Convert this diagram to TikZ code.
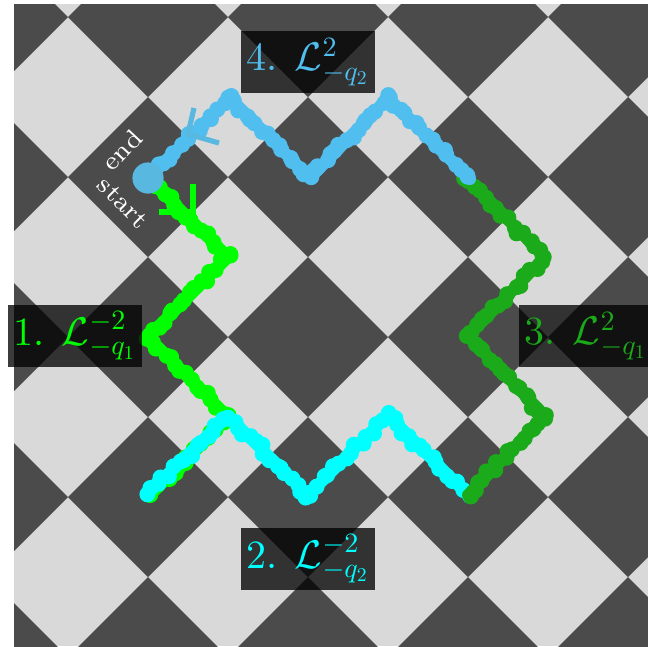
\documentclass[tikz,border=0pt]{standalone}
\usetikzlibrary{calc}
\definecolor{boardDark}{RGB}{75,75,75}
\definecolor{boardLight}{RGB}{217,217,217}
\definecolor{cA}{RGB}{0,255,0}
\definecolor{cB}{RGB}{0,255,255}
\definecolor{cC}{RGB}{26,170,26}
\definecolor{cD}{RGB}{80,190,238}
\definecolor{cE}{RGB}{88,184,224}
\newcommand\shr[1]{\scalebox{0.7}{$#1$}}
\newcommand\jseg[3]{%
  \draw[#1, line width=3pt, line cap=round] (#2) -- (#3);
  \foreach \k in {0,...,15}{%
    \pgfmathsetmacro\jt{\k/15}%
    \fill[#1] ($(#2)!\jt!(#3)+(3*rand,3*rand)$) circle[radius=2pt];
  }%
}
\tikzset{
  lab/.style={fill=black, fill opacity=0.77, text opacity=1, minimum width=33.5pt,
    minimum height=15.5pt, inner sep=0pt, font=\normalsize},
  barb/.style={line width=1.3pt},
  tag/.style={text=white, inner sep=0pt, font=\fontsize{6.5}{8}\selectfont}
}
\begin{document}
\begin{tikzpicture}[x=0.25pt,y=-0.25pt]
\useasboundingbox (0,0) rectangle (648,646);
\begin{scope}
  \clip (14,4) rectangle (648,646);
  \fill[boardLight] (14,4) rectangle (648,646);
  \foreach \m in {-1,...,3}{
    \foreach \n in {-1,...,4}{
      \fill[boardDark] ({148+160*\m-80},{17+160*\n}) -- ++(80,-80) -- ++(80,80) -- ++(-80,80) -- cycle;
    }
  }
\end{scope}
\coordinate (P0) at (148,178);
\coordinate (A1) at (228,257);
\coordinate (A2) at (148,337);
\coordinate (A3) at (228,417);
\coordinate (A4) at (153,492);
\coordinate (B0) at (146,495);
\coordinate (B1) at (228,416);
\coordinate (B2) at (308,495);
\coordinate (B3) at (388,415);
\coordinate (B4) at (468,495);
\coordinate (C1) at (545,416);
\coordinate (C2) at (468,336);
\coordinate (C3) at (545,257);
\coordinate (C4) at (466,177);
\coordinate (D0) at (470,179);
\coordinate (D1) at (388,98);
\coordinate (D2) at (310,178);
\coordinate (D3) at (230,98);
\pgfmathsetseed{7}
% path 1
\jseg{cA}{P0}{A1}\jseg{cA}{A1}{A2}\jseg{cA}{A2}{A3}\jseg{cA}{A3}{A4}
% path 2
\jseg{cB}{B0}{B1}\jseg{cB}{B1}{B2}\jseg{cB}{B2}{B3}\jseg{cB}{B3}{B4}
% path 3
\jseg{cC}{B4}{C1}\jseg{cC}{C1}{C2}\jseg{cC}{C2}{C3}\jseg{cC}{C3}{C4}
% path 4
\jseg{cD}{D0}{D1}\jseg{cD}{D1}{D2}\jseg{cD}{D2}{D3}\jseg{cD}{D3}{P0}
% arrows
\coordinate (gA) at (193,212);
\coordinate (g1) at (193,184);
\coordinate (g2) at (159,212);
\draw[barb, cA] (g1) -- (gA) -- (g2);
\coordinate (bA) at (188,134);
\coordinate (b1) at (194,108);
\coordinate (b2) at (219,143);
\draw[barb, cE] (b1) -- (bA) -- (b2);
% start circle
\fill[cE] (P0) circle[radius=3.9pt];
\node[tag, rotate=47] (endl) at (122,150) {end};
\node[tag, rotate=-45] (startl) at (123,203) {start};
% labels
\node[lab, text=cA] (L1) at (75,336) {1. $\mathcal{L}^{\shr{-2}}_{\shr{-q_{\shr{1}}}}$};
\node[lab, text=cB] (L2) at (308,558.5) {2. $\mathcal{L}^{\shr{-2}}_{\shr{-q_{\shr{2}}}}$};
\node[lab, text=cC] (L3) at (586,336) {3. $\mathcal{L}^{\shr{2}}_{\shr{-q_{\shr{1}}}}$};
\node[lab, text=cD] (L4) at (308,62) {4. $\mathcal{L}^{\shr{2}}_{\shr{-q_{\shr{2}}}}$};
\end{tikzpicture}
\end{document}
